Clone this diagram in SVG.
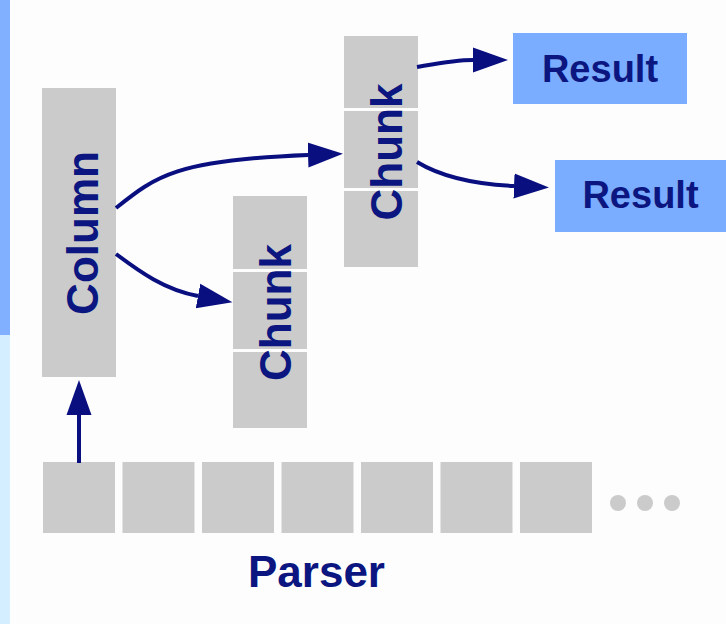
<svg xmlns="http://www.w3.org/2000/svg" width="726" height="624" viewBox="0 0 726 624">
  <defs>
    <style>
      .cell { fill: #cbcbcb; }
      .res { fill: #7aacff; }
      .lbl { font-family: "Liberation Sans", Arial, Helvetica, sans-serif; font-weight: bold; fill: #0b1680; text-anchor: middle; }
      .conn { fill: none; stroke: #0a0f80; stroke-width: 4; }
      .dot { fill: #cbcbcb; }
    </style>
    <marker id="arrow" markerUnits="userSpaceOnUse" markerWidth="40" markerHeight="30" refX="0" refY="13" orient="auto" viewBox="0 0 40 26">
      <path d="M0,0.5 L35,13 L0,25.5 z" fill="#0a0f80"/>
    </marker>
  </defs>

  <rect x="0" y="0" width="726" height="624" fill="#fdfdfd"/>
  <rect x="0" y="0" width="10" height="335" fill="#80b0ff"/>
  <rect x="0" y="335" width="10" height="289" fill="#d5eeff"/>

  <g id="column">
    <rect class="cell" x="42" y="88" width="74" height="289"/>
    <text class="lbl" font-size="44" transform="translate(98,233) rotate(-90)">Column</text>
  </g>

  <g id="chunk-middle">
    <rect class="cell" x="233" y="196" width="74" height="73"/>
    <rect class="cell" x="233" y="272" width="74" height="77"/>
    <rect class="cell" x="233" y="352" width="74" height="76"/>
    <text class="lbl" font-size="44" transform="translate(291,312.5) rotate(-90)">Chunk</text>
  </g>

  <g id="chunk-top">
    <rect class="cell" x="344" y="36" width="74" height="72"/>
    <rect class="cell" x="344" y="111" width="74" height="77"/>
    <rect class="cell" x="344" y="191" width="74" height="76"/>
    <text class="lbl" font-size="44" transform="translate(402,152) rotate(-90)">Chunk</text>
  </g>

  <g id="result-1">
    <rect class="res" x="513" y="33" width="174" height="71"/>
    <text class="lbl" font-size="38" x="600" y="82">Result</text>
  </g>

  <g id="result-2">
    <rect class="res" x="555" y="160" width="172" height="72"/>
    <text class="lbl" font-size="38" x="640.5" y="208">Result</text>
  </g>

  <g id="parser">
    <rect class="cell" x="43" y="462" width="72" height="71"/>
    <rect class="cell" x="122.5" y="462" width="72" height="71"/>
    <rect class="cell" x="202" y="462" width="72" height="71"/>
    <rect class="cell" x="281.5" y="462" width="72" height="71"/>
    <rect class="cell" x="361" y="462" width="72" height="71"/>
    <rect class="cell" x="440.5" y="462" width="72" height="71"/>
    <rect class="cell" x="520" y="462" width="72" height="71"/>
    <circle class="dot" cx="618" cy="503" r="8"/>
    <circle class="dot" cx="645" cy="503" r="8"/>
    <circle class="dot" cx="672" cy="503" r="8"/>
    <text class="lbl" font-size="44" x="316.5" y="587">Parser</text>
  </g>

  <g id="connectors">
    <path class="conn" d="M79,463 L79,415" marker-end="url(#arrow)"/>
    <path class="conn" d="M116,208 C155,177 175,160 308,155" marker-end="url(#arrow)"/>
    <path class="conn" d="M116,254 C140,272 165,290 198,296" marker-end="url(#arrow)"/>
    <path class="conn" d="M417,67 C440,63 455,60 473,60" marker-end="url(#arrow)"/>
    <path class="conn" d="M417,162 C440,176 470,184 514,186" marker-end="url(#arrow)"/>
  </g>
</svg>
